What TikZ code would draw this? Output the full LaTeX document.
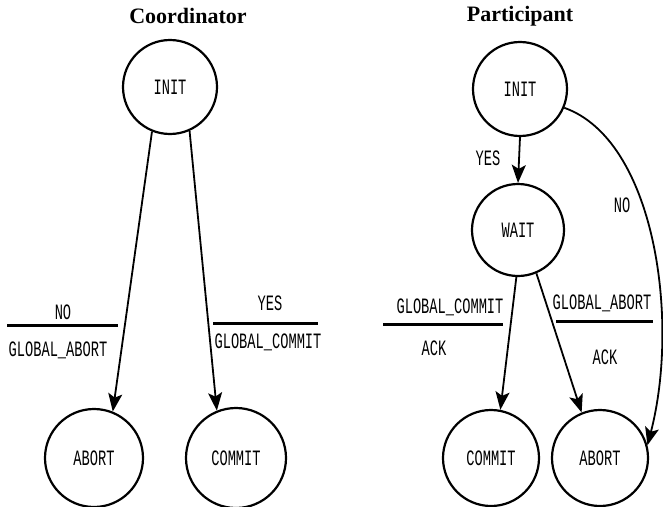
\documentclass[tikz,border=0pt]{standalone}
\usepackage{fontspec}
\usepackage{graphicx}
\setmainfont{Liberation Serif}
\newfontfamily\monofam{Liberation Mono}
\usetikzlibrary{arrows.meta}
\newcommand\lbl[1]{\scalebox{1}[1.6]{\fontsize{13.7}{14}\selectfont\monofam #1}}
\tikzset{
  state/.style={circle, draw, line width=2.2pt, inner sep=0pt},
  edge/.style={line width=1.8pt, -{Stealth[length=18pt,width=14pt,inset=4pt]}},
  bar/.style={line width=3pt},
  title/.style={font=\fontsize{22}{24}\selectfont\bfseries},
  tlabel/.style={inner sep=0pt}
}
\begin{document}
\begin{tikzpicture}[x=1pt,y=-1pt]
\useasboundingbox (0,0) rectangle (663,506);
% titles
\node[title] (t1) at (188,16) {Coordinator};
\node[title] (t2) at (520,16) {Participant};
% coordinator states
\node[state, minimum size=94pt] (cinit) at (170,87) {\lbl{INIT}};
\node[state, minimum size=98pt] (cabort) at (94,458) {\lbl{ABORT}};
\node[state, minimum size=100pt] (ccommit) at (236,458) {\lbl{COMMIT}};
% coordinator edges
\draw[edge] (cinit.-112) -- (cabort.68);
\draw[edge] (cinit.-66) -- (ccommit.112);
% coordinator labels
\node[tlabel] (cno) at (63,312) {\lbl{NO}};
\coordinate (cb1a) at (7,325); \coordinate (cb1b) at (118,325);
\draw[bar] (cb1a) -- (cb1b);
\node[tlabel] (cga) at (58,350) {\lbl{GLOBAL\_ABORT}};
\node[tlabel] (cyes) at (270,303) {\lbl{YES}};
\coordinate (cb2a) at (213,323); \coordinate (cb2b) at (318,323);
\draw[bar] (cb2a) -- (cb2b);
\node[tlabel] (cgc) at (268,342) {\lbl{GLOBAL\_COMMIT}};
% participant states
\node[state, minimum size=94pt] (pinit) at (520,89) {\lbl{INIT}};
\node[state, minimum size=92pt] (pwait) at (518,230) {\lbl{WAIT}};
\node[state, minimum size=96pt] (pcommit) at (491,458) {\lbl{COMMIT}};
\node[state, minimum size=96pt] (pabort) at (600,458) {\lbl{ABORT}};
% participant edges
\draw[edge] (pinit.south) -- (pwait.north);
\draw[edge] (pwait.-92) -- (pcommit.79);
\draw[edge] (pwait.-67) -- (pabort.112);
\draw[edge] (pinit.-23) .. controls (655,140) and (680,320) .. (pabort.15);
% participant labels
\node[tlabel] (pyes) at (488,158) {\lbl{YES}};
\node[tlabel] (pno) at (622,205) {\lbl{NO}};
\node[tlabel] (pgc) at (450,307) {\lbl{GLOBAL\_COMMIT}};
\coordinate (pb1a) at (383,324); \coordinate (pb1b) at (503,324);
\draw[bar] (pb1a) -- (pb1b);
\node[tlabel] (pack1) at (434,348) {\lbl{ACK}};
\node[tlabel] (pga) at (602,303) {\lbl{GLOBAL\_ABORT}};
\coordinate (pb2a) at (556,321); \coordinate (pb2b) at (653,321);
\draw[bar] (pb2a) -- (pb2b);
\node[tlabel] (pack2) at (605,357) {\lbl{ACK}};
\end{tikzpicture}
\end{document}
